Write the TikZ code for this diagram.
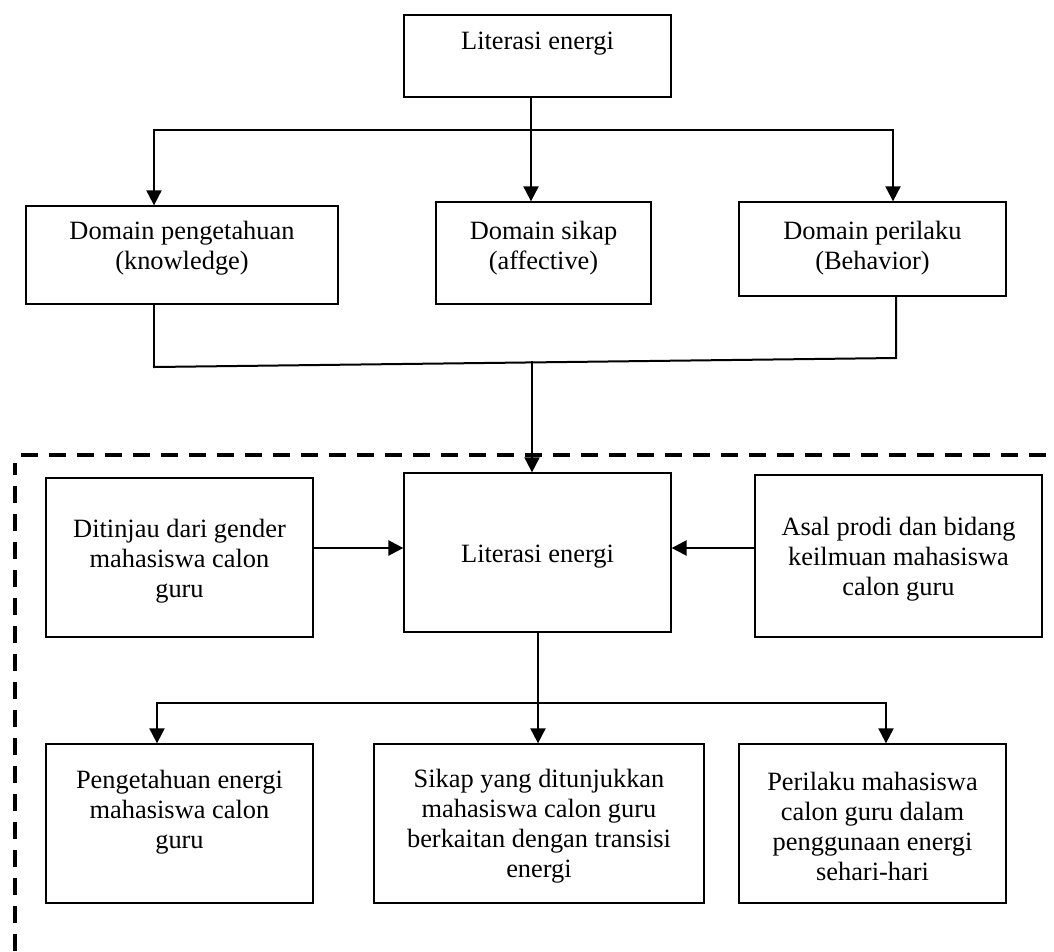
\documentclass[tikz,border=0pt]{standalone}
\usepackage{fontspec}
\setmainfont{Liberation Serif}
\usetikzlibrary{arrows.meta}
\begin{document}
\begin{tikzpicture}[x=1pt,y=-1pt,
  box/.style={draw=black, line width=1.3pt, inner sep=0pt, anchor=center},
  txt/.style={align=center, inner sep=0pt, font=\fontsize{26.4}{30}\selectfont},
  conn/.style={line width=2pt, line cap=rect},
  arr/.style={line width=2pt, -{Triangle[length=15pt,width=15pt]}},
  arrthick/.style={line width=2.5pt, -{Triangle[length=15pt,width=15pt]}},
  dashline/.style={line width=4pt, dash pattern=on 17pt off 11pt}]
\useasboundingbox (0,0) rectangle (1054,951);

% row 1
\node[box, minimum width=267pt, minimum height=82pt] (top) at (537.5,56) {};
\node[txt] (ttop) at (537.5,44) {Literasi energi};

\node[box, minimum width=312pt, minimum height=98pt] (kn) at (182,255) {};
\node[txt] (tkn) at (182,248) {Domain pengetahuan\\(knowledge)};

\node[box, minimum width=215pt, minimum height=102pt] (sk) at (543.5,253) {};
\node[txt] (tsk) at (543.5,248) {Domain sikap\\(affective)};

\node[box, minimum width=267pt, minimum height=94pt] (bh) at (872.5,249) {};
\node[txt] (tbh) at (872.5,248) {Domain perilaku\\(Behavior)};

% row 2
\node[box, minimum width=267pt, minimum height=159pt] (gd) at (179.5,557.5) {};
\node[txt] (tgd) at (179.5,561) {Ditinjau dari gender\\mahasiswa calon\\guru};

\node[box, minimum width=267pt, minimum height=159pt] (mid) at (537.5,552.5) {};
\node[txt] (tmid) at (537.5,557) {Literasi energi};

\node[box, minimum width=287pt, minimum height=162pt] (pr) at (898.5,556) {};
\node[txt] (tpr) at (898.5,559) {Asal prodi dan bidang\\keilmuan mahasiswa\\calon guru};

% row 3
\node[box, minimum width=267pt, minimum height=159pt] (b1) at (179.5,823.5) {};
\node[txt] (tb1) at (179.5,812) {Pengetahuan energi\\mahasiswa calon\\guru};

\node[box, minimum width=330pt, minimum height=159pt] (b2) at (539,823.5) {};
\node[txt] (tb2) at (539,826) {Sikap yang ditunjukkan\\mahasiswa calon guru\\berkaitan dengan transisi\\energi};

\node[box, minimum width=267pt, minimum height=159pt] (b3) at (872.5,823.5) {};
\node[txt] (tb3) at (872.5,826) {Perilaku mahasiswa\\calon guru dalam\\penggunaan energi\\sehari-hari};

% connectors top
\coordinate (h1L) at (154,130);
\coordinate (h1R) at (893,130);
\coordinate (h1M) at (531,130);
\draw[arr] (top.south -| h1M) -- (sk.north -| h1M);
\draw[arr] (h1R) -- (h1L) -- (h1L |- kn.north);
\draw[arr] (h1L) -- (h1R) -- (h1R |- bh.north);

% merge lines
\coordinate (j2L) at (154,367);
\coordinate (j2R) at (896,358);
\coordinate (j2M) at (532,361);
\draw[conn] (kn.south -| j2L) -- (j2L);
\draw[conn] (j2L) -- (j2R) -- (bh.south -| j2R);
\draw[arr] (j2M) -- (mid.north -| j2M);

% side arrows
\coordinate (ym) at (0,548);
\draw[arrthick] (gd.east |- ym) -- (mid.west |- ym);
\draw[arrthick] (pr.west |- ym) -- (mid.east |- ym);

% bottom distribution
\coordinate (h3L) at (157,703);
\coordinate (h3R) at (886,703);
\coordinate (h3M) at (538,703);
\draw[arr] (mid.south -| h3M) -- (b2.north -| h3M);
\draw[arr] (h3R) -- (h3L) -- (h3L |- b1.north);
\draw[arr] (h3L) -- (h3R) -- (h3R |- b3.north);

% dashed frame
\coordinate (dA) at (15,951);
\coordinate (dB) at (15,463);
\coordinate (dC) at (21,455);
\coordinate (dD) at (1060,455);
\draw[dashline] (dA) -- (dB);
\draw[dashline] (dC) -- (dD);
\end{tikzpicture}
\end{document}
